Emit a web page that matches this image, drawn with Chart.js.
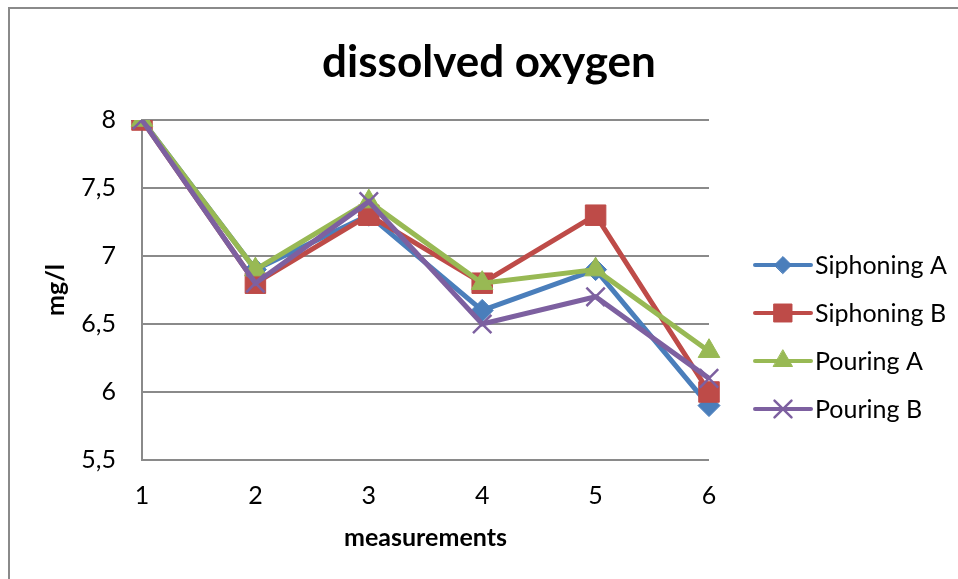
<!DOCTYPE html>
<html>
<head>
<meta charset="utf-8">
<title>dissolved oxygen</title>
<script src="https://cdn.jsdelivr.net/npm/chart.js@4.4.1/dist/chart.umd.min.js"></script>
<style>
  html, body { margin: 0; padding: 0; background: #fff; }
  #lineChart { display: block; }
</style>
</head>
<body>
<canvas id="lineChart" width="958" height="579"></canvas>
<script>
// measurement numbers along the x axis
const measurements = ["1", "2", "3", "4", "5", "6"];

// dissolved oxygen, mg/l
const siphoningA = [8.0, 6.9, 7.3, 6.6, 6.9, 5.9];
const siphoningB = [8.0, 6.8, 7.3, 6.8, 7.3, 6.0];
const pouringA = [8.0, 6.9, 7.4, 6.8, 6.9, 6.3];
const pouringB = [8.0, 6.8, 7.4, 6.5, 6.7, 6.1];

const yTicks = [5.5, 6, 6.5, 7, 7.5, 8];

Chart.defaults.font.family = "Lato, 'Open Sans', sans-serif";
Chart.defaults.color = "#000";

const gridGrey = "#8a8a8a";

// grey frame round the whole chart
const chartFrame = {
  id: "chartFrame",
  beforeDraw(chart) {
    const ctx = chart.ctx;
    ctx.save();
    ctx.strokeStyle = gridGrey;
    ctx.lineWidth = 2;
    ctx.strokeRect(9, 8, chart.width + 20, chart.height + 20);
    ctx.restore();
  }
};

// key on the right: a short line with the marker in the middle, then the name
const sideKey = {
  id: "sideKey",
  beforeInit(chart) {
    const box = {
      position: "right",
      weight: 100,
      fullSize: false,
      options: {},
      isHorizontal() { return false; },
      update(maxWidth, maxHeight) {
        this.width = 249;
        this.height = maxHeight;
      },
      draw() {
        const ctx = chart.ctx;
        chart.data.datasets.forEach((ds, i) => {
          const y = this.top + 145 + i * 48;
          const x0 = this.left + 46;
          ctx.save();
          ctx.strokeStyle = ds.borderColor;
          ctx.lineWidth = 4;
          ctx.lineCap = "round";
          ctx.beginPath();
          ctx.moveTo(x0, y);
          ctx.lineTo(x0 + 56, y);
          ctx.stroke();
          ctx.fillStyle = ds.pointBackgroundColor;
          ctx.strokeStyle = ds.pointBorderColor;
          ctx.lineWidth = ds.pointBorderWidth;
          Chart.helpers.drawPoint(ctx, {
            pointStyle: ds.pointStyle,
            radius: ds.keyRadius,
            rotation: 0,
            borderWidth: ds.pointBorderWidth
          }, x0 + 28, y);
          ctx.fillStyle = "#000";
          ctx.font = "25px Lato, 'Open Sans', sans-serif";
          ctx.textBaseline = "middle";
          ctx.textAlign = "left";
          ctx.fillText(ds.label, x0 + 60, y + 1);
          ctx.restore();
        });
      }
    };
    Chart.layouts.addBox(chart, box);
  }
};

function series(label, data, color, style, radius, keyRadius, borderWidth, order) {
  return {
    label: label,
    data: data,
    borderColor: color,
    backgroundColor: color,
    borderWidth: 5,
    tension: 0,
    pointStyle: style,
    pointRadius: radius,
    keyRadius: keyRadius,
    pointBackgroundColor: color,
    pointBorderColor: color,
    pointBorderWidth: borderWidth,
    order: order
  };
}

new Chart(document.getElementById("lineChart"), {
  type: "line",
  data: {
    labels: measurements,
    datasets: [
      series("Siphoning A", siphoningA, "#4a7ebb", "rectRot", 11, 8.5, 1, 3),
      series("Siphoning B", siphoningB, "#be4b48", "rect", 14.5, 12.7, 1, 2),
      series("Pouring A", pouringA, "#98b954", "triangle", 12.5, 11, 1, 1),
      series("Pouring B", pouringB, "#7d60a0", "crossRot", 13, 12, 2.5, 0)
    ]
  },
  options: {
    responsive: false,
    animation: false,
    events: [],
    layout: { padding: { left: 20, right: 0, top: 0, bottom: 0 } },
    plugins: {
      legend: { display: false },
      tooltip: { enabled: false },
      title: {
        display: true,
        text: "dissolved oxygen",
        font: { size: 44, weight: "bold" },
        color: "#000",
        padding: { top: 36, bottom: 31.2 }
      }
    },
    scales: {
      x: {
        type: "category",
        offset: false,
        grid: { display: false, drawTicks: false },
        border: { display: false },
        ticks: { padding: 21, font: { size: 25 }, maxRotation: 0, autoSkip: false },
        title: {
          display: true,
          text: "measurements",
          font: { size: 25, weight: "bold" },
          padding: { top: 0, bottom: 26 }
        },
        afterFit(scale) { scale.height = 119; }
      },
      y: {
        min: 5.5,
        max: 8,
        grid: { color: gridGrey, lineWidth: 2, drawTicks: false },
        border: { display: true, color: gridGrey, width: 2 },
        ticks: {
          padding: 26,
          font: { size: 25 },
          callback: v => String(v).replace(".", ",")
        },
        afterBuildTicks(scale) {
          scale.ticks = yTicks.map(v => ({ value: v }));
        },
        title: {
          display: true,
          text: "mg/l",
          font: { size: 25, weight: "bold" },
          padding: { top: 21, bottom: 0 }
        },
        afterFit(scale) { scale.width = 122; }
      }
    }
  },
  plugins: [chartFrame, sideKey]
});
</script>
</body>
</html>
